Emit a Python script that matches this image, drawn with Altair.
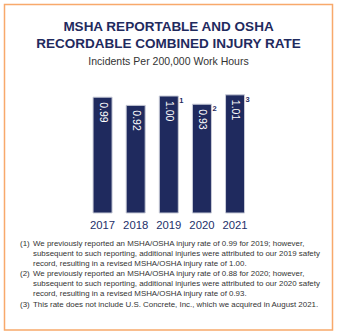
import altair as alt
import pandas as pd

years = ["2017", "2018", "2019", "2020", "2021"]
rates = [0.99, 0.92, 1.00, 0.93, 1.01]
notes = ["", "", "1", "2", "3"]

title_lines = ["MSHA REPORTABLE AND OSHA", "RECORDABLE COMBINED INJURY RATE"]
subtitle = "Incidents Per 200,000 Work Hours"
footnote_markers = ["(1)", "(2)", "(3)"]
footnote_lines = [
    ["We previously reported an MSHA/OSHA injury rate of 0.99 for 2019; however,",
     "subsequent to such reporting, additional injuries were attributed to our 2019 safety",
     "record, resulting in a revised MSHA/OSHA injury rate of 1.00."],
    ["We previously reported an MSHA/OSHA injury rate of 0.88 for 2020; however,",
     "subsequent to such reporting, additional injuries were attributed to our 2020 safety",
     "record, resulting in a revised MSHA/OSHA injury rate of 0.93."],
    ["This rate does not include U.S. Concrete, Inc., which we acquired in August 2021."],
]

NAVY = "#1F2A5E"
GRAY = "#333333"
FONT = "Liberation Sans"

df = pd.DataFrame({"year": years, "rate": rates, "note": notes,
                   "label": [f"{r:.2f}" for r in rates]})

xs = alt.X("year:N", scale=alt.Scale(domain=years, range=[86, 251.6],
                                     paddingInner=0.426, paddingOuter=0.213), axis=None)
ys = alt.Y("rate:Q", scale=alt.Scale(domain=[0, 1], range=[213, 96], nice=False), axis=None)

base = alt.Chart(df)

bars = base.mark_bar(color=NAVY, stroke="#c9ccd8", strokeWidth=1).encode(x=xs, y=ys)

bar_labels = base.mark_text(angle=90, align="left", baseline="middle", dx=5,
                            color="white", fontSize=10.5, font=FONT).encode(
    x=xs, y=ys, text="label:N")

sups = base.transform_filter("datum.note != ''").mark_text(
    align="left", baseline="top", dx=10.5, dy=1, fontSize=7.5, fontWeight="bold",
    color=NAVY, font=FONT).encode(x=xs, y=ys, text="note:N")

year_labels = base.mark_text(baseline="middle", fontSize=11.3, color="#24306A", font=FONT).encode(
    x=xs, y=alt.value(225.5), text="year:N")


def txt(s, x, y, size, color, weight="normal", align="center"):
    return alt.Chart(pd.DataFrame({"t": [s]})).mark_text(
        align=align, baseline="middle", fontSize=size, fontWeight=weight,
        color=color, font=FONT).encode(x=alt.value(x), y=alt.value(y), text="t:N")


layers = [bars, bar_labels, sups, year_labels]
layers.append(txt(title_lines[0], 168.5, 27, 13.5, NAVY, "bold"))
layers.append(txt(title_lines[1], 168.5, 43.5, 13.5, NAVY, "bold"))
layers.append(txt(subtitle, 168.5, 62, 10.5, GRAY))

starts = [244, 274, 305]
for marker, lines, y0 in zip(footnote_markers, footnote_lines, starts):
    layers.append(txt(marker, 20, y0, 7.9, GRAY, align="left"))
    for i, line in enumerate(lines):
        layers.append(txt(line, 33, y0 + i * 9.8, 7.9, GRAY, align="left"))

border = alt.Chart(pd.DataFrame({"a": [1]})).mark_rect(
    fillOpacity=0, stroke="#F8A96B", strokeWidth=1.5).encode(
    x=alt.value(4.5), x2=alt.value(332.5), y=alt.value(4.5), y2=alt.value(330))
layers.append(border)

chart = alt.layer(*layers).properties(
    width=337, height=335, autosize=alt.AutoSizeParams(type="none"),
    padding=0, background="white"
).configure_view(stroke=None)

chart.save("out.html", embed_options={"renderer": "svg", "actions": False})
